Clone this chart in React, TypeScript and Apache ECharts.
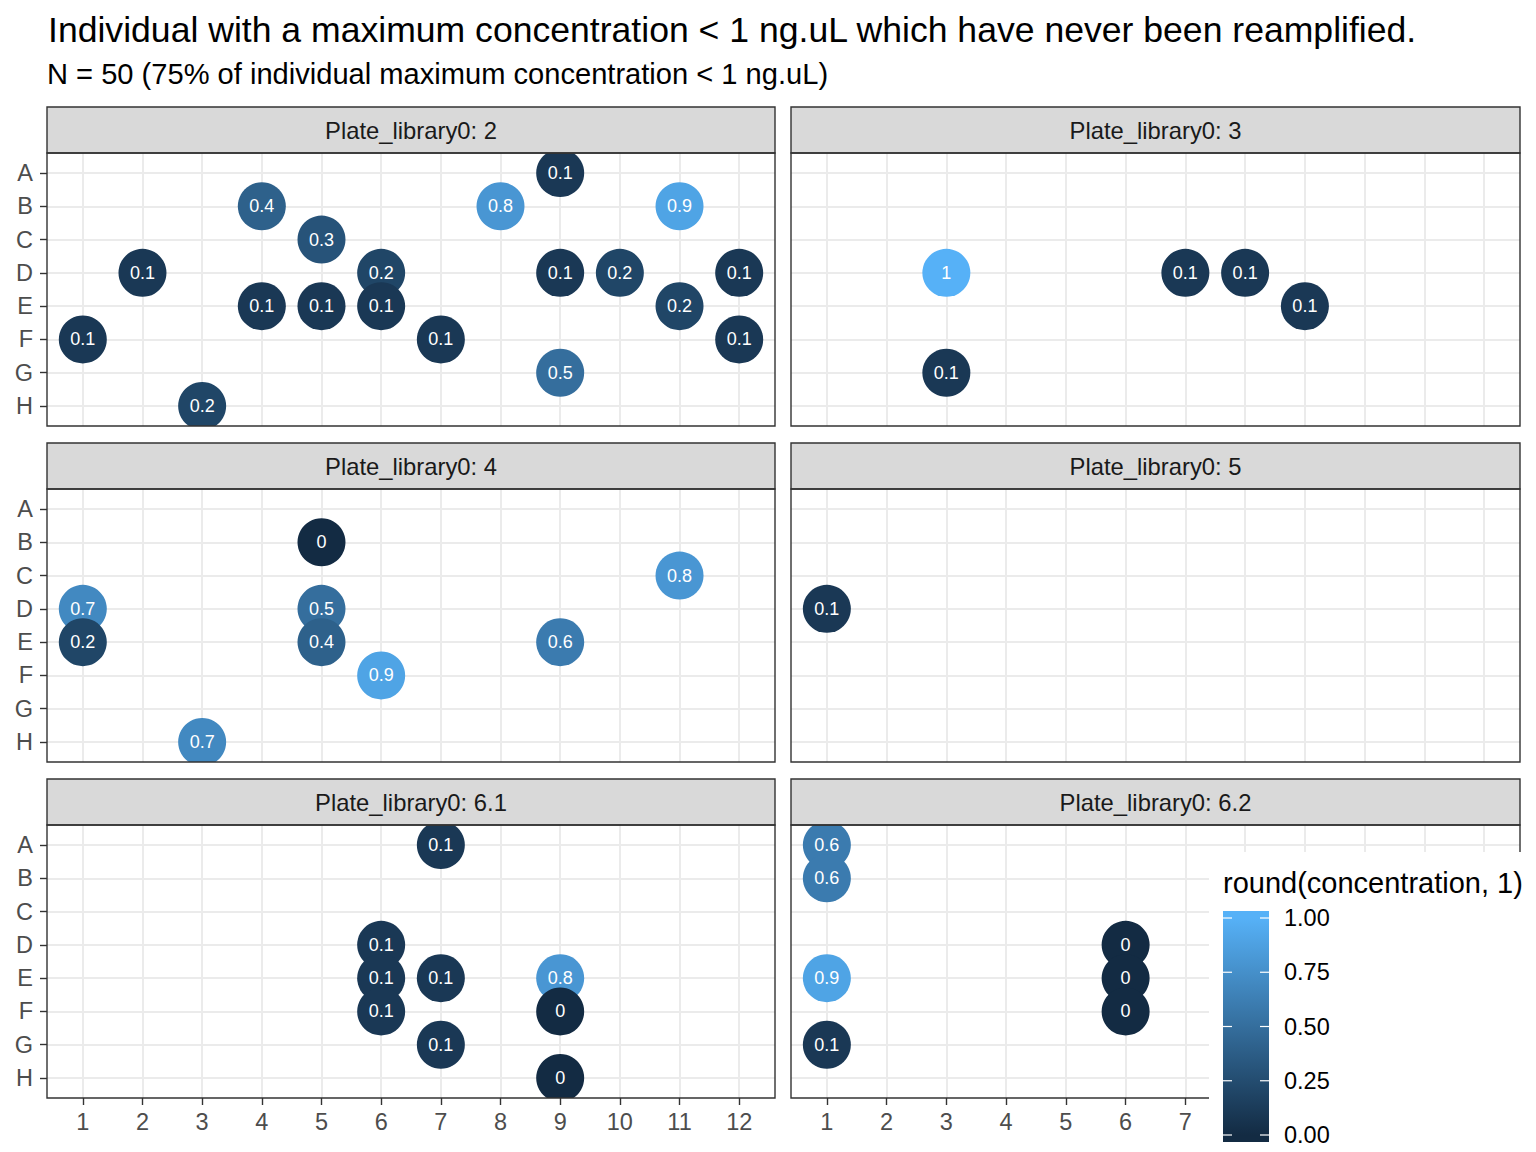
import React, { useEffect, useRef } from "react";
import * as echarts from "echarts";

const titleText = "Individual with a maximum concentration < 1 ng.uL which have never been reamplified.";
const subtitleText = "N = 50 (75% of individual maximum concentration < 1 ng.uL)";
const stripPrefix = "Plate_library0: ";
const plateNames = ["2", "3", "4", "5", "6.1", "6.2"];
const rowLabels = ["A", "B", "C", "D", "E", "F", "G", "H"];
const colLabels = ["1", "2", "3", "4", "5", "6", "7", "8", "9", "10", "11", "12"];

const wells2 = ["A9", "B4", "B8", "B11", "C5", "D2", "D6", "D9", "D10", "D12", "E4", "E5", "E6", "E11", "F1", "F7", "F12", "G9", "H3"];
const conc2 = [0.1, 0.4, 0.8, 0.9, 0.3, 0.1, 0.2, 0.1, 0.2, 0.1, 0.1, 0.1, 0.1, 0.2, 0.1, 0.1, 0.1, 0.5, 0.2];
const wells3 = ["D3", "D7", "D8", "E9", "G3"];
const conc3 = [1, 0.1, 0.1, 0.1, 0.1];
const wells4 = ["B5", "C11", "D1", "D5", "E1", "E5", "E9", "F6", "H3"];
const conc4 = [0, 0.8, 0.7, 0.5, 0.2, 0.4, 0.6, 0.9, 0.7];
const wells5 = ["D1"];
const conc5 = [0.1];
const wells61 = ["A7", "D6", "E6", "E7", "E9", "F6", "F9", "G7", "H9"];
const conc61 = [0.1, 0.1, 0.1, 0.1, 0.8, 0.1, 0, 0.1, 0];
const wells62 = ["A1", "B1", "D6", "E1", "E6", "F6", "G1"];
const conc62 = [0.6, 0.6, 0, 0.9, 0, 0, 0.1];

const legendTitle = "round(concentration, 1)";
const legendBreaks = [0, 0.25, 0.5, 0.75, 1];
const legendBreakLabels = ["0.00", "0.25", "0.50", "0.75", "1.00"];

const plateWells = [wells2, wells3, wells4, wells5, wells61, wells62];
const plateConc = [conc2, conc3, conc4, conc5, conc61, conc62];

const FONT = "'Liberation Sans', Arial, Helvetica, sans-serif";

export default function App() {
  const ref = useRef<HTMLDivElement>(null);
  useEffect(() => {
    document.body.style.margin = "0";
    const chart = echarts.init(ref.current!, null, { renderer: "svg" });

    const colLeft = [47, 791];
    const colWidth = [728, 729];
    const rowTop = [153, 489, 825];
    const plotH = 273;
    const stripH = 46;
    const legendLeft = 1209;
    const rowVals = rowLabels.map((_, i) => i + 1);
    const colVals = colLabels.map((_, i) => i + 1);

    const grids: any[] = [];
    const xAxes: any[] = [];
    const yAxes: any[] = [];
    const series: any[] = [];
    const graphics: any[] = [];

    plateNames.forEach((name, i) => {
      const r = Math.floor(i / 2);
      const c = i % 2;
      const left = colLeft[c];
      const top = rowTop[r];
      const w = colWidth[c];
      // x tick labels hidden under the legend box are not drawn at all
      const unit = w / 12.2;
      const labelVals = colVals.filter((v) => !(r === 2 && left + (v - 0.4) * unit > legendLeft));
      grids.push({ left, top, width: w, height: plotH, show: false });
      xAxes.push({
        gridIndex: i,
        type: "value",
        min: 0.4,
        max: 12.6,
        axisLine: { show: false },
        axisTick: {
          show: r === 2,
          customValues: colVals,
          length: 7,
          lineStyle: { color: "#333333", width: 1.4 },
        },
        axisLabel: {
          show: r === 2,
          customValues: labelVals,
          formatter: (v: number) => colLabels[Math.round(v) - 1],
          margin: 12,
          color: "#4D4D4D",
          fontSize: 23.5,
          fontFamily: FONT,
        },
        splitLine: { show: true, lineStyle: { color: "#EBEBEB", width: 2 } },
      });
      yAxes.push({
        gridIndex: i,
        type: "value",
        inverse: true,
        min: 0.4,
        max: 8.6,
        axisLine: { show: false },
        axisTick: {
          show: c === 0,
          customValues: rowVals,
          length: 7,
          lineStyle: { color: "#333333", width: 1.4 },
        },
        axisLabel: {
          show: c === 0,
          customValues: rowVals,
          formatter: (v: number) => rowLabels[Math.round(v) - 1],
          margin: 14,
          padding: [3, 0, 0, 0],
          color: "#4D4D4D",
          fontSize: 23.5,
          fontFamily: FONT,
        },
        splitLine: { show: true, lineStyle: { color: "#EBEBEB", width: 2 } },
      });
      const data = plateWells[i].map((wl, k) => [
        parseInt(wl.slice(1), 10),
        rowLabels.indexOf(wl[0]) + 1,
        plateConc[i][k],
      ]);
      series.push({
        type: "custom",
        xAxisIndex: i,
        yAxisIndex: i,
        clip: true,
        data,
        encode: { x: 0, y: 1 },
        renderItem: (params: any, api: any) => {
          const pt = api.coord([api.value(0), api.value(1)]);
          const color = api.visual("color");
          return {
            type: "group",
            children: [
              { type: "circle", shape: { cx: pt[0], cy: pt[1], r: 24 }, style: { fill: color } },
              {
                type: "text",
                x: pt[0],
                y: pt[1],
                style: {
                  text: String(api.value(2)),
                  fill: "#FFFFFF",
                  fontSize: 18,
                  fontFamily: FONT,
                  align: "center",
                  verticalAlign: "middle",
                },
              },
            ],
          };
        },
      });
      // strip
      graphics.push({
        type: "rect",
        z: 50,
        shape: { x: left, y: top - stripH, width: w, height: stripH },
        style: { fill: "#D9D9D9", stroke: "#333333", lineWidth: 1.4 },
      });
      graphics.push({
        type: "text",
        z: 51,
        x: left + w / 2,
        y: top - stripH / 2,
        style: {
          text: stripPrefix + name,
          fill: "#1A1A1A",
          fontSize: 23.8,
          fontFamily: FONT,
          align: "center",
          verticalAlign: "middle",
        },
      });
      // panel border
      graphics.push({
        type: "rect",
        z: 50,
        shape: { x: left, y: top, width: w, height: plotH },
        style: { fill: "none", stroke: "#333333", lineWidth: 1.4 },
      });
    });

    // titles
    graphics.push({
      type: "text",
      z: 60,
      x: 48,
      y: 29.5,
      style: { text: titleText, fill: "#000000", fontSize: 35.6, fontFamily: FONT, verticalAlign: "middle" },
    });
    graphics.push({
      type: "text",
      z: 60,
      x: 47,
      y: 74,
      style: { text: subtitleText, fill: "#000000", fontSize: 29.1, fontFamily: FONT, verticalAlign: "middle" },
    });

    // legend
    const barX = 1223, barY = 911, barW = 46, barH = 231;
    const y0 = 1135, y1 = 918;
    graphics.push({
      type: "rect",
      z: 100,
      shape: { x: legendLeft, y: 852, width: 1536 - legendLeft, height: 300 },
      style: { fill: "#FFFFFF" },
    });
    graphics.push({
      type: "text",
      z: 101,
      x: 1223,
      y: 883,
      style: { text: legendTitle, fill: "#000000", fontSize: 29, fontFamily: FONT, verticalAlign: "middle" },
    });
    graphics.push({
      type: "rect",
      z: 101,
      shape: { x: barX, y: barY, width: barW, height: barH },
      style: {
        fill: {
          type: "linear",
          x: 0, y: 0, x2: 0, y2: 1,
          colorStops: [
            { offset: 0, color: "#56B1F7" },
            { offset: (y1 - barY) / barH, color: "#56B1F7" },
            { offset: (y0 - barY) / barH, color: "#132B43" },
            { offset: 1, color: "#132B43" },
          ],
        },
      },
    });
    legendBreaks.forEach((b, k) => {
      const y = y0 - b * (y0 - y1);
      graphics.push({ type: "line", z: 102, shape: { x1: barX, y1: y, x2: barX + 9, y2: y }, style: { stroke: "#FFFFFF", lineWidth: 1.2 } });
      graphics.push({ type: "line", z: 102, shape: { x1: barX + barW - 9, y1: y, x2: barX + barW, y2: y }, style: { stroke: "#FFFFFF", lineWidth: 1.2 } });
      graphics.push({
        type: "text",
        z: 102,
        x: 1284,
        y,
        style: { text: legendBreakLabels[k], fill: "#000000", fontSize: 23.5, fontFamily: FONT, verticalAlign: "middle" },
      });
    });

    chart.setOption({
      animation: false,
      backgroundColor: "#FFFFFF",
      grid: grids,
      xAxis: xAxes,
      yAxis: yAxes,
      visualMap: {
        type: "continuous",
        show: false,
        min: 0,
        max: 1,
        dimension: 2,
        seriesIndex: plateNames.map((_, i) => i),
        inRange: { color: ["#132B43", "#56B1F7"] },
      },
      series,
      graphic: graphics,
    });
    return () => chart.dispose();
  }, []);
  return <div ref={ref} style={{ position: "absolute", left: 0, top: 0, width: 1536, height: 1152 }} />;
}
